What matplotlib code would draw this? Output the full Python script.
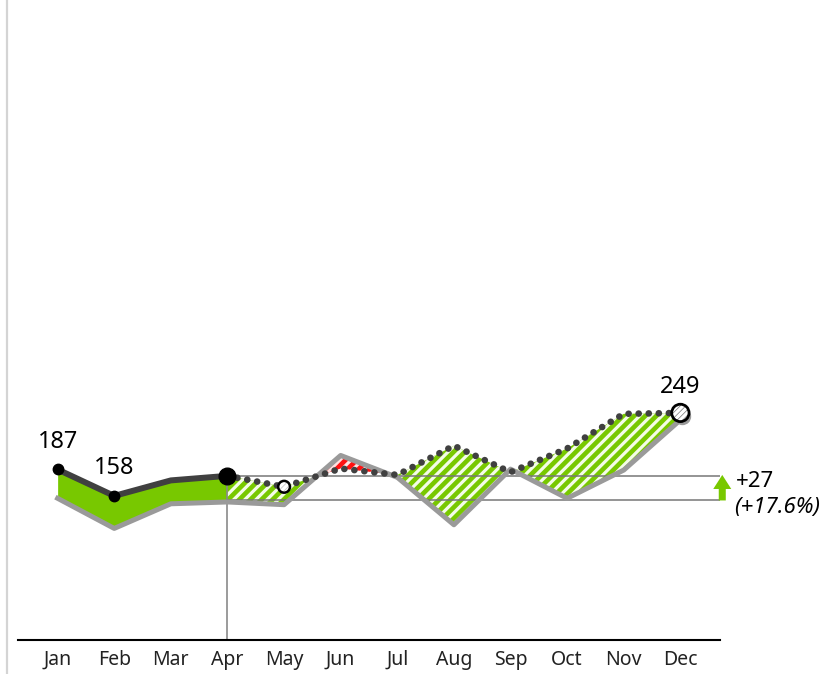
import matplotlib.pyplot as plt
import numpy as np
from matplotlib import transforms
from matplotlib.lines import Line2D

plt.rcParams['font.family'] = ['Noto Sans', 'DejaVu Sans']
plt.rcParams['hatch.linewidth'] = 2.3

months = ["Jan", "Feb", "Mar", "Apr", "May", "Jun", "Jul", "Aug", "Sep", "Oct", "Nov", "Dec"]
actual = [187, 158, 175, 180]                                  # Jan..Apr
forecast = [180, 168, 188, 181, 213, 184, 210, 248, 249]       # Apr..Dec
prev_year = [157, 124, 151, 153, 150, 204, 180, 128, 189, 157, 188, 243]

green = '#78C800'
red = '#FF1010'
dark = '#404040'

x = np.arange(len(months))
xa = x[:len(actual)]
xf = x[len(actual) - 1:]
fc = np.array(forecast)
py_f = np.array(prev_year[len(actual) - 1:])

fig = plt.figure(figsize=(8.36, 6.74), dpi=100)
ax = fig.add_axes([18 / 836, 34 / 674, 702 / 836, 640 / 674])
ax.set_xlim(-0.7, 11.7)
ax.set_ylim(0, 640 / 0.912)
ax.axis('off')

# light frame line on the left
fig.add_artist(Line2D([7 / 836, 7 / 836], [0, 1], color='#d4d4d4', lw=1.6))

# fills
ax.fill_between(xa, actual, prev_year[:len(actual)], color=green, lw=0, zorder=1)
ax.fill_between(xf, fc, py_f, where=fc >= py_f, interpolate=True,
                facecolor=green, edgecolor='#f4fce8', hatch='///', lw=0, zorder=1)
ax.fill_between(xf, fc, py_f, where=fc <= py_f, interpolate=True,
                facecolor=red, edgecolor='#ffe0e0', hatch='///', lw=0, zorder=1)

# previous year line, drawn a bit lower like a shadow
shift = transforms.offset_copy(ax.transData, fig=fig, x=0, y=-1.5, units='dots')
ax.plot(x, prev_year, color='#9a9a9a', lw=3.6, transform=shift, zorder=3)

# actual and forecast
ax.plot(xa, actual, color=dark, lw=4.3, zorder=4)
ax.plot(xf, forecast, color=dark, lw=4.8, linestyle=(0, (0.01, 1.5)),
        dash_capstyle='round', zorder=5)

# reference lines at Apr
last = len(actual) - 1
ax.plot([last, last], [0, actual[last]], color='#8a8a8a', lw=1.2, zorder=2)
ax.plot([last, 11.7], [actual[last], actual[last]], color='#777777', lw=1.1, zorder=2)
ax.plot([last, 11.7], [prev_year[last], prev_year[last]], color='#777777', lw=1.1, zorder=2)

# markers
ax.plot(xa[:2], actual[:2], 'o', color='black', ms=7.5, zorder=6)
ax.plot(last, actual[last], 'o', color='black', ms=12, zorder=6)
ax.scatter([xf[1]], [forecast[1]], s=8.5 ** 2, facecolor='#c0c0c0', edgecolor='white',
           hatch='//////', lw=0, zorder=6)
ax.scatter([xf[1]], [forecast[1]], s=8.5 ** 2, facecolor='none', edgecolor='black', lw=1.8, zorder=7)

shadow = transforms.offset_copy(ax.transData, fig=fig, x=2, y=-3, units='dots')
ax.scatter([x[-1]], [forecast[-1]], s=12.5 ** 2, color='#9a9a9a', lw=0, transform=shadow, zorder=6)
ax.scatter([x[-1]], [forecast[-1]], s=12.5 ** 2, facecolor='#7a7a7a', edgecolor='white',
           hatch='//////', lw=0, zorder=7)
ax.scatter([x[-1]], [forecast[-1]], s=12.5 ** 2, facecolor='none', edgecolor='black', lw=2, zorder=8)

# value labels
for xi, v in [(0, actual[0]), (1, actual[1])]:
    ax.annotate(str(v), (xi, v), xytext=(0, 15.5), textcoords='offset points',
                ha='center', va='baseline', fontsize=17)
ax.annotate(str(forecast[-1]), (x[-1], forecast[-1]), xytext=(0, 14.5),
            textcoords='offset points', ha='center', va='baseline', fontsize=17)

# x axis
ax.plot([-0.7, 11.7], [0, 0], color='black', lw=1.5, clip_on=False, zorder=5)
for xi, m in zip(x, months):
    ax.text(xi, -22, m, ha='center', va='center', fontsize=14, color='#222222')

# difference arrow and text
diff = actual[last] - prev_year[last]
pct = diff / prev_year[last] * 100
xarr = 11.74
sw, hw, hl = 0.062, 0.159, 15.4
top = actual[last] + 1
ax.fill([xarr - sw, xarr - sw, xarr - hw, xarr, xarr + hw, xarr + sw, xarr + sw],
        [prev_year[last], top - hl, top - hl, top, top - hl, top - hl, prev_year[last]],
        color=green, lw=0, zorder=6, clip_on=False)
ax.text(11.98, actual[last] - 6, f"+{diff}", ha='left', va='center', fontsize=16)
ax.text(11.95, prev_year[last] - 8, f"(+{pct:.1f}%)", ha='left', va='center',
        fontsize=16, style='italic')

fig.savefig("out.png", dpi=100)
